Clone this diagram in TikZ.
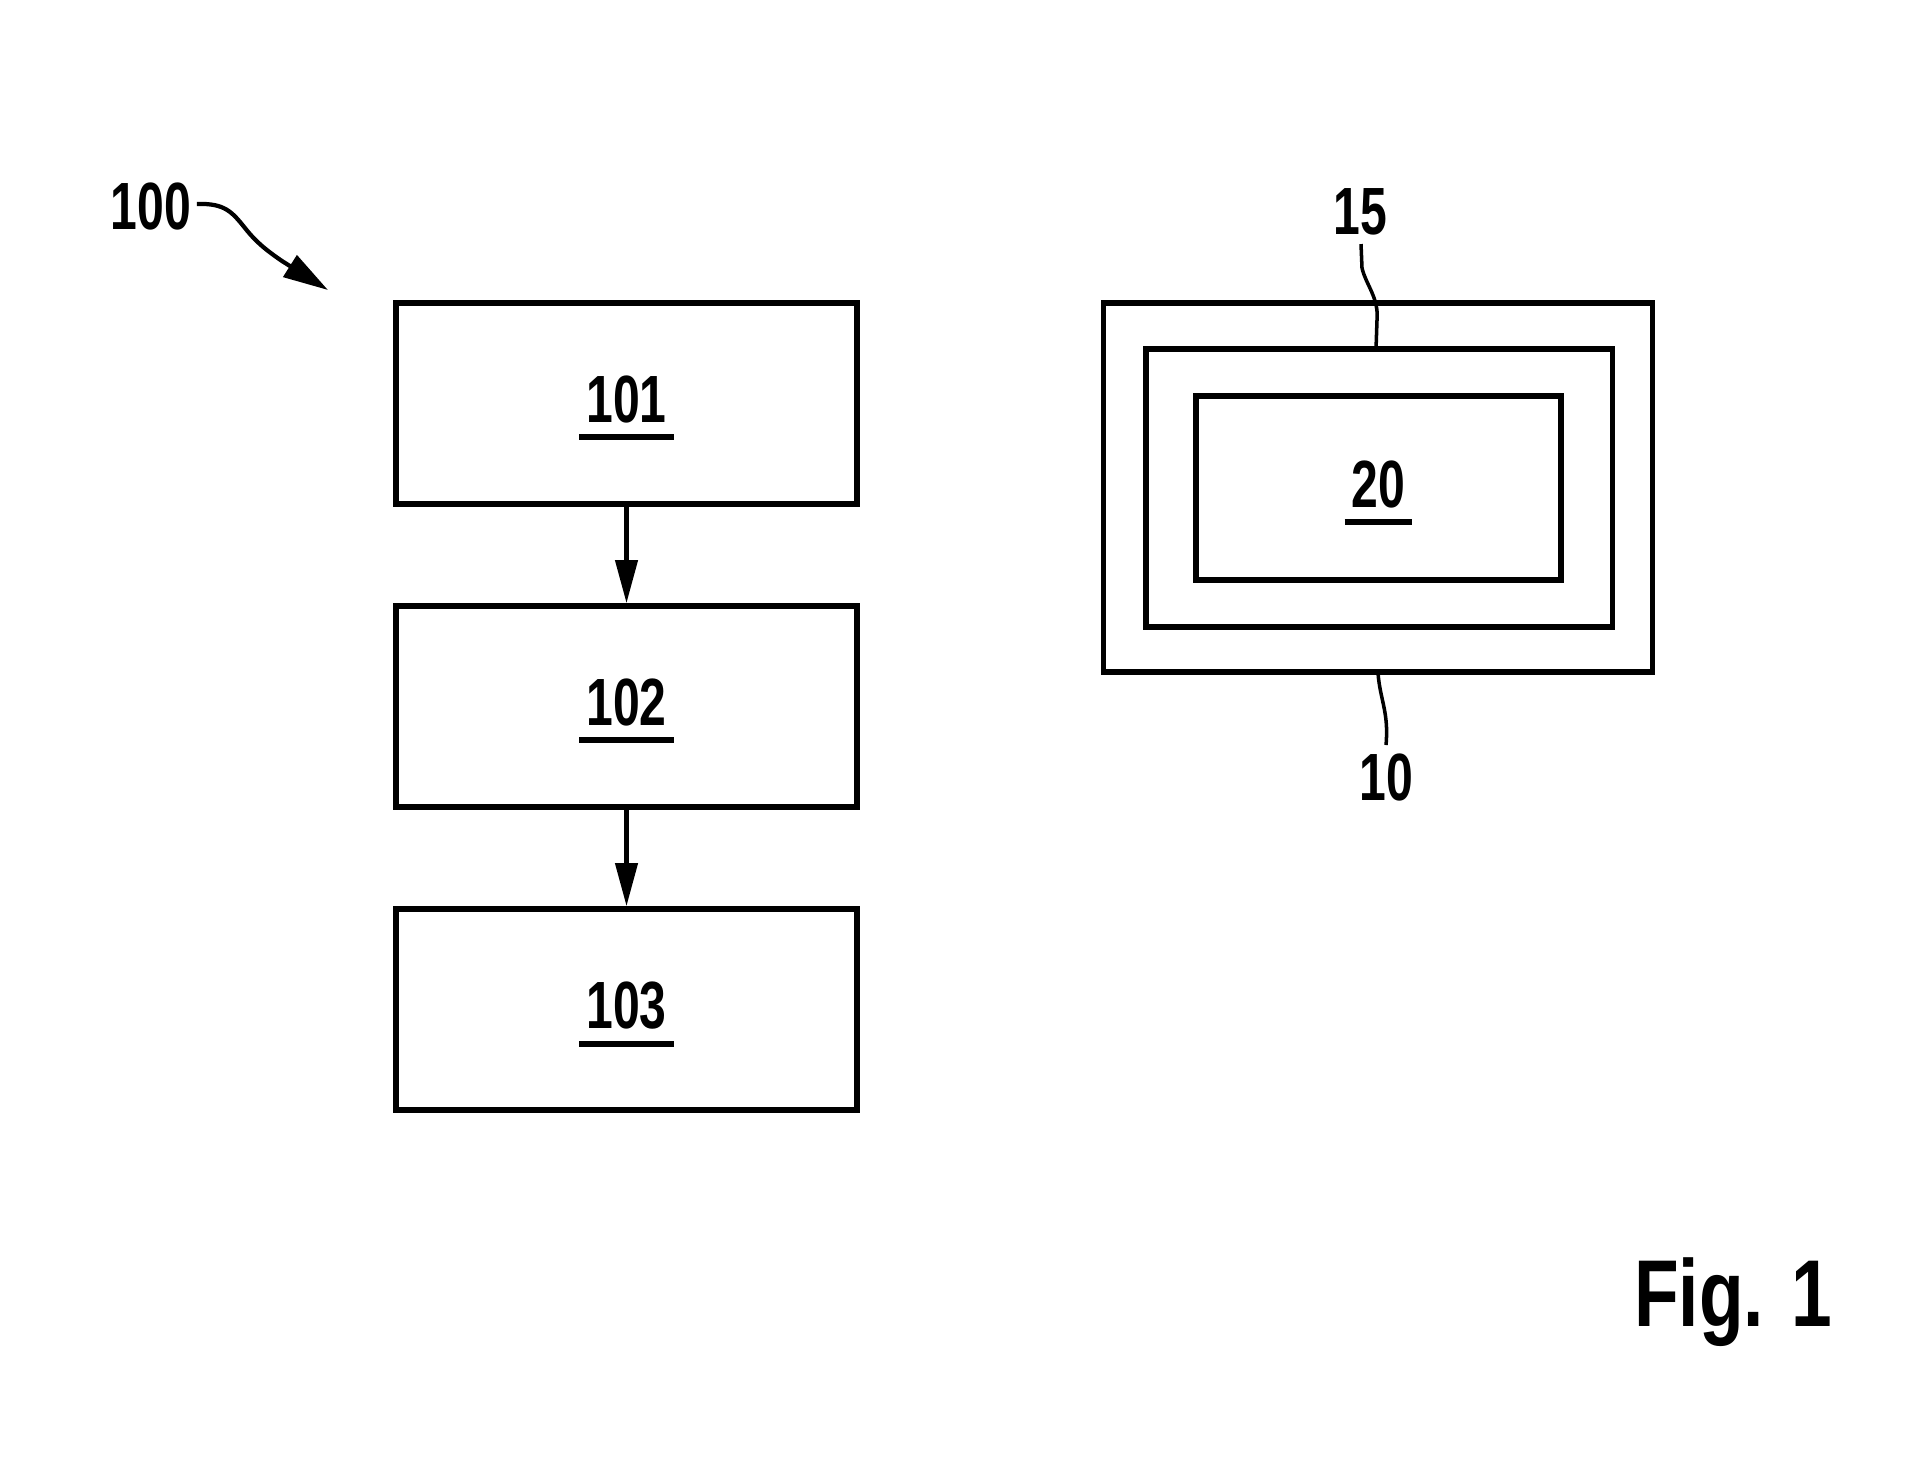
\documentclass[tikz,border=0pt]{standalone}
\usepackage{fontspec}
\usepackage{tikz}
\usetikzlibrary{arrows.meta,positioning}
\newfontfamily\numfont[FakeStretch=0.72]{Liberation Sans}
\newfontfamily\figfont[FakeStretch=0.77]{Liberation Sans}
\newcommand{\ulnum}[1]{\vtop{\hbox{\kern2pt#1\kern2pt}\kern3.1pt\hrule height 1.7pt}}

\begin{document}
\begin{tikzpicture}[
  x=0.01cm, y=-0.01cm,
  >={Triangle[length=4.3mm, width=2.2mm]},
  num/.style={font=\numfont\bfseries\fontsize{19pt}{19pt}\selectfont, inner sep=0pt},
  stepbox/.style={draw, line width=1.6pt, minimum width=4.61cm,
                  minimum height=2.01cm, inner sep=0pt,
                  text height=16pt, text depth=5pt,
                  font=\numfont\bfseries\fontsize{19pt}{19pt}\selectfont},
  frame/.style={draw, line width=1.5pt, inner sep=0pt},
  flow/.style={->, line width=1.2pt},
  leader/.style={line width=1pt},
]
\useasboundingbox (0,0) rectangle (1909,1462);

% === Left side: method steps ===
\node[stepbox] (s101) at (626.5, 403.5) {\ulnum{101}};
\node[stepbox] (s102) at (626.5, 706.5) {\ulnum{102}};
\node[stepbox] (s103) at (626.5, 1009.5) {\ulnum{103}};

\draw[flow] (s101) -- (s102);
\draw[flow] (s102) -- (s103);

% reference sign for the method
\node[num] (l100) at (151, 206) {100};
\coordinate (tip100) at (328, 290);
\draw[leader, line width=1.2pt, -{Triangle[length=4.5mm, width=2.5mm]}] (l100.east) ++(5,-2)
  .. controls (225,203) and (232,212) .. (245,228)
  .. controls (256,242) and (266,250) .. (282,261) -- (tip100);

% === Right side: nested layers ===
\node[frame, minimum width=5.48cm, minimum height=3.69cm] (outer) at (1378, 487.5) {};
\node[frame, minimum width=4.66cm, minimum height=2.78cm] (mid) at (1379, 488) {};
\node[frame, minimum width=3.65cm, minimum height=1.84cm,
      text height=16pt, text depth=5pt,
      font=\numfont\bfseries\fontsize{19pt}{19pt}\selectfont] (inner) at (1378.5, 488)
  {\ulnum{20}};

% leaders for 15 and 10
\node[num] (l15) at (1360, 212) {15};
\coordinate (m15) at (1376, 349);
\draw[leader] (l15.south) ++(1,8) -- ++(1,24)
  .. controls (1366,285) and (1379,298) .. (1377,320) -- (m15);

\node[num] (l10) at (1386, 777) {10};
\coordinate (o10) at (1378, 673);
\draw[leader] (o10) .. controls (1380,700) and (1389,712) .. (l10.north |- 0,745);

% === Figure caption ===
\node[font=\figfont\bfseries\fontsize{27pt}{27pt}\selectfont, inner sep=0pt]
  (fig) at (1733, 1302) {Fig. 1};

\end{tikzpicture}
\end{document}
